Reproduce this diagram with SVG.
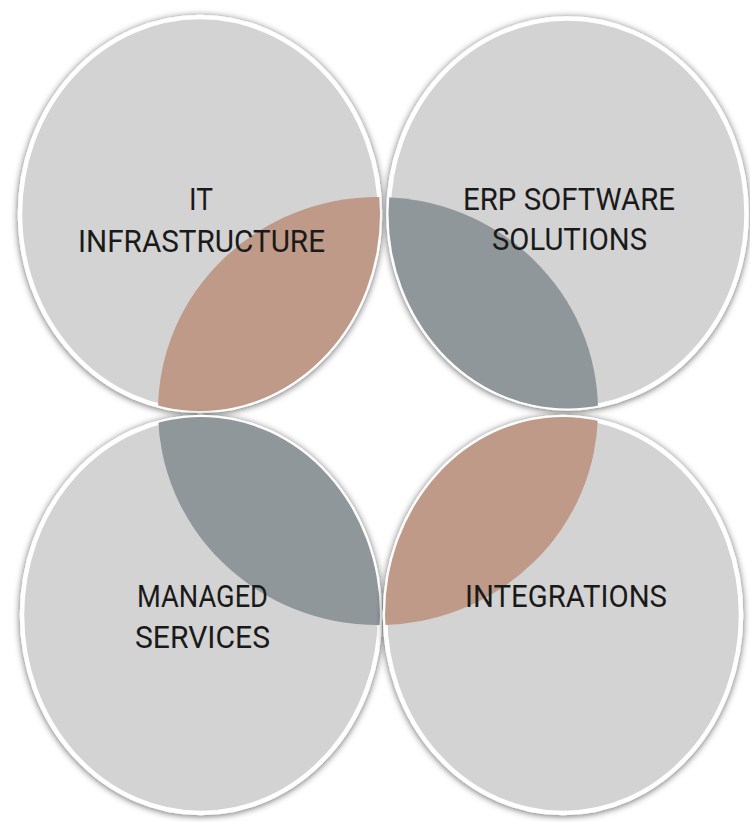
<svg xmlns="http://www.w3.org/2000/svg" width="750" height="822" viewBox="0 0 750 822">
  <style>
    .bubble { fill: #D3D3D3; stroke: #FFFFFF; stroke-width: 4.5; }
    .label { font-family: Roboto, "Liberation Sans", sans-serif; font-size: 31px; fill: #1A1A1A; text-anchor: middle; }
    .brown { fill: #BF9A88; }
    .slate { fill: #8F979B; }
  </style>
  <defs>
    <filter id="shadow" x="-10%" y="-10%" width="120%" height="120%">
      <feDropShadow dx="0" dy="1" stdDeviation="3.5" flood-color="#000000" flood-opacity="0.6"/>
    </filter>
    <clipPath id="clipTL"><ellipse cx="200" cy="214" rx="180" ry="197"/></clipPath>
    <clipPath id="clipTR"><ellipse cx="567.5" cy="213.5" rx="179" ry="195"/></clipPath>
    <clipPath id="clipBL"><ellipse cx="201" cy="615" rx="179" ry="198"/></clipPath>
    <clipPath id="clipBR"><ellipse cx="563" cy="615" rx="178" ry="198"/></clipPath>
  </defs>
  <rect width="750" height="822" fill="#FFFFFF"/>

  <g id="node-it-infrastructure">
    <ellipse class="bubble" cx="200" cy="214" rx="180" ry="197" filter="url(#shadow)"/>
    <ellipse class="brown" cx="378" cy="411" rx="220" ry="214" clip-path="url(#clipTL)"/>
    <text class="label" x="201" y="210" textLength="24" lengthAdjust="spacingAndGlyphs">IT</text>
    <text class="label" x="201.5" y="252" textLength="247" lengthAdjust="spacingAndGlyphs">INFRASTRUCTURE</text>
  </g>

  <g id="node-erp-software-solutions">
    <ellipse class="bubble" cx="567.5" cy="213.5" rx="179" ry="195" filter="url(#shadow)"/>
    <ellipse class="slate" cx="378" cy="411" rx="220" ry="214" clip-path="url(#clipTR)"/>
    <text class="label" x="569" y="210" textLength="212" lengthAdjust="spacingAndGlyphs">ERP SOFTWARE</text>
    <text class="label" x="569.5" y="250" textLength="155" lengthAdjust="spacingAndGlyphs">SOLUTIONS</text>
  </g>

  <g id="node-managed-services">
    <ellipse class="bubble" cx="201" cy="615" rx="179" ry="198" filter="url(#shadow)"/>
    <ellipse class="slate" cx="378" cy="411" rx="220" ry="214" clip-path="url(#clipBL)"/>
    <text class="label" x="202.5" y="607" textLength="131" lengthAdjust="spacingAndGlyphs">MANAGED</text>
    <text class="label" x="202.5" y="648" textLength="135" lengthAdjust="spacingAndGlyphs">SERVICES</text>
  </g>

  <g id="node-integrations">
    <ellipse class="bubble" cx="563" cy="615" rx="178" ry="198" filter="url(#shadow)"/>
    <ellipse class="brown" cx="378" cy="411" rx="220" ry="214" clip-path="url(#clipBR)"/>
    <text class="label" x="566" y="607" textLength="202" lengthAdjust="spacingAndGlyphs">INTEGRATIONS</text>
  </g>

  <g id="connectors"></g>
</svg>
